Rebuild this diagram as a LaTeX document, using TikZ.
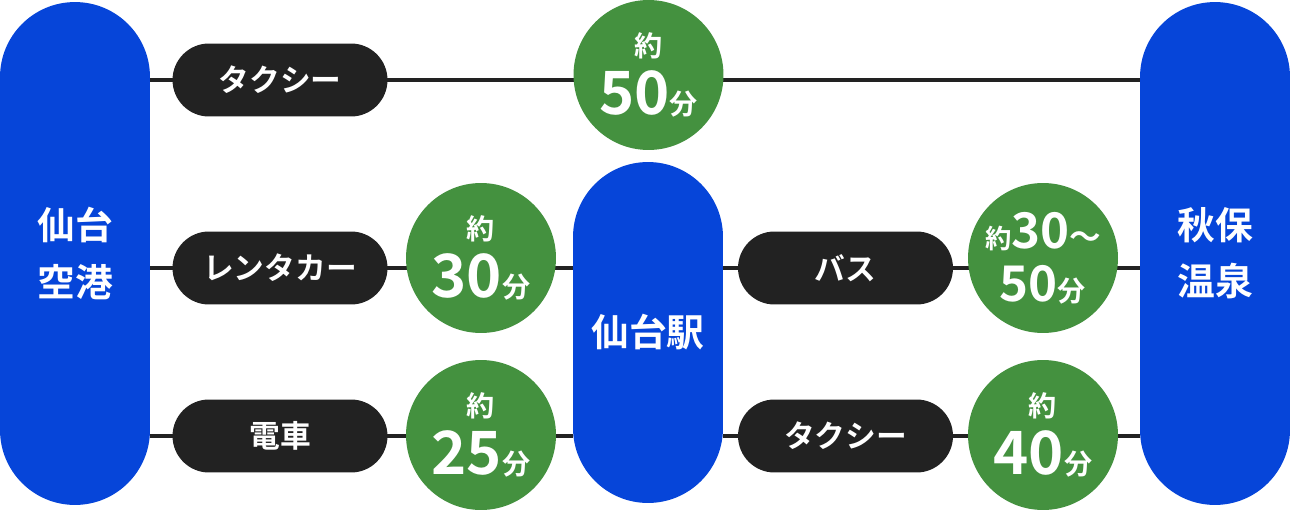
\documentclass[tikz,border=0pt]{standalone}
\usepackage{fontspec}
\setmainfont{Noto Sans CJK JP}[BoldFont=* Bold]
\usetikzlibrary{backgrounds}
\definecolor{placeblue}{HTML}{0645D9}
\definecolor{timegreen}{HTML}{44913F}
\definecolor{modedark}{HTML}{222222}
\newcommand\fs[1]{\fontsize{#1}{#1}\selectfont}
\newcommand\mins[1]{{\fs{16}約}\\[6pt]{\fs{34}#1}{\fs{16}分}}
\begin{document}
\begin{tikzpicture}[x=0.02cm, y=-0.02cm,
    place/.style={fill=placeblue, text=white, minimum width=3cm, rounded corners=1.5cm,
      align=center, inner sep=0pt, font=\bfseries\fontsize{21.5}{32}\selectfont},
    mode/.style={fill=modedark, text=white, minimum width=4.3cm, minimum height=1.46cm,
      rounded corners=0.73cm, inner sep=0pt, font=\bfseries\fs{17.5}},
    time/.style={circle, fill=timegreen, text=white, minimum size=3cm, inner sep=0pt,
      align=center, font=\bfseries\fontsize{10}{0}\selectfont},
    route/.style={draw=modedark, line width=2.8pt}]
  \useasboundingbox (0,0) rectangle (1290,510);

  % places
  \node[place, minimum height=10.06cm] (airport) at (75,253.5) {仙台\\空港};
  \node[place, minimum height=6.82cm] (station) at (648,332.5) {仙台駅};
  \node[place, minimum height=10.06cm] (onsen) at (1215,253.5) {秋保\\温泉};

  % means of transport
  \node[mode] (taxiA) at (280,80) {タクシー};
  \node[mode] (rental) at (280,268) {レンタカー};
  \node[mode] (train) at (280,436) {電車};
  \node[mode] (bus) at (845.5,268) {バス};
  \node[mode] (taxiB) at (845.5,436) {タクシー};

  % travel times
  \node[time] (t50) at (648.5,75) {\mins{50}};
  \node[time] (t30) at (481,258) {\mins{30}};
  \node[time] (t25) at (481,435) {\mins{25}};
  \node[time] (t3050) at (1043,258)
    {{\fs{15}約}{\fs{28}30}{\fs{18}〜}\\[7pt]{\fs{28}50}{\fs{16}分}};
  \node[time] (t40) at (1043,435) {\mins{40}};

  \begin{scope}[on background layer]
    \draw[route] (airport.east |- taxiA) -- (onsen.west |- taxiA);
    \draw[route] (airport.east |- rental) -- (station.west |- rental);
    \draw[route] (station.east |- bus) -- (onsen.west |- bus);
    \draw[route] (airport.east |- train) -- (station.west |- train);
    \draw[route] (station.east |- taxiB) -- (onsen.west |- taxiB);
  \end{scope}
\end{tikzpicture}
\end{document}
